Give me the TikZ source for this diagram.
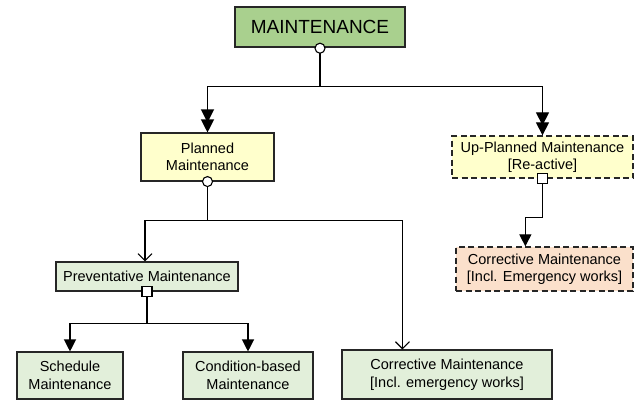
\documentclass[tikz,border=0pt]{standalone}
\usepackage{fontspec}
\setmainfont{Liberation Sans}
\usetikzlibrary{arrows.meta}
\definecolor{mgreen}{RGB}{169,208,142}
\definecolor{lyellow}{RGB}{255,255,204}
\definecolor{lpeach}{RGB}{251,224,203}
\definecolor{lgreen}{RGB}{226,239,218}
\begin{document}
\begin{tikzpicture}[x=1pt,y=-1pt,
  box/.style={draw=black!85,line width=1.1pt,align=center,inner sep=0pt,
    font=\fontsize{14.5}{17.5}\selectfont},
  dbox/.style={box,line width=1.3pt,dash pattern=on 6pt off 3.5pt},
  conn/.style={line width=1.2pt,black},
  tri/.style={conn,-{Triangle[length=12pt,width=12pt]}},
  dbl/.style={conn,-{Triangle[length=13pt,width=13pt,sep=-3pt]Triangle[length=13pt,width=13pt]}},
  opn/.style={conn,-{Straight Barb[length=7pt,width=14pt,line width=1.1pt]}},
  circ/.style={draw=black,line width=1.1pt,fill=white},
]
\useasboundingbox (0,0) rectangle (635,402);
\fill[white] (0,0) rectangle (635,402);

\node[box,line width=2.4pt,fill=mgreen,minimum width=170pt,minimum height=40pt,
  font=\fontsize{19}{22}\selectfont] (m) at (320,27) {MAINTENANCE};
\node[box,fill=lyellow,minimum width=133pt,minimum height=48pt] (pl) at (207.5,157) {Planned\\Maintenance};
\node[dbox,fill=lyellow,minimum width=181pt,minimum height=42pt] (up) at (542.5,157) {Up-Planned Maintenance\\{}[Re-active]};
\node[dbox,fill=lpeach,minimum width=177pt,minimum height=44pt] (oc) at (544.5,269) {Corrective Maintenance\\{}[Incl. Emergency works]};
\node[box,fill=lgreen,minimum width=182pt,minimum height=29pt] (pv) at (147,276.5) {Preventative Maintenance};
\node[box,fill=lgreen,minimum width=106pt,minimum height=47pt] (sc) at (70,375.5) {Schedule\\Maintenance};
\node[box,fill=lgreen,minimum width=130pt,minimum height=47pt] (cb) at (248,375.5) {Condition-based\\Maintenance};
\node[box,fill=lgreen,minimum width=210pt,minimum height=49pt] (cg) at (447,374.5) {Corrective Maintenance\\{}[Incl. emergency works]};

% MAINTENANCE branches
\draw[conn] (m.south) -- ++(0,38) coordinate (j1);
\draw[dbl] (j1) -| (pl.north);
\draw[dbl] (j1) -| (up.north);
\draw[circ] (m.south) circle (5pt);

% Planned branches
\draw[conn] (pl.south) -- ++(0,39) coordinate (j2);
\draw[opn] (j2) -| ([xshift=-2pt]pv.north);
\draw[opn] (j2) -| ([xshift=61pt]cg.north west);
\draw[circ] (pl.south) circle (5pt);

% Preventative branches
\draw[conn] (pv.south) -- ++(0,32) coordinate (j3);
\draw[tri] (j3) -| (sc.north);
\draw[tri] (j3) -| (cb.north);
\draw[circ] ([xshift=-5pt,yshift=-5pt]pv.south) rectangle ([xshift=5pt,yshift=5pt]pv.south);

% Up-planned branch
\draw[conn] (up.south) -- ++(0,39) coordinate (j4);
\draw[tri] (j4) -| ([xshift=70pt]oc.north west);
\draw[circ] ([xshift=-5pt,yshift=-5pt]up.south) rectangle ([xshift=5pt,yshift=5pt]up.south);
\end{tikzpicture}
\end{document}
